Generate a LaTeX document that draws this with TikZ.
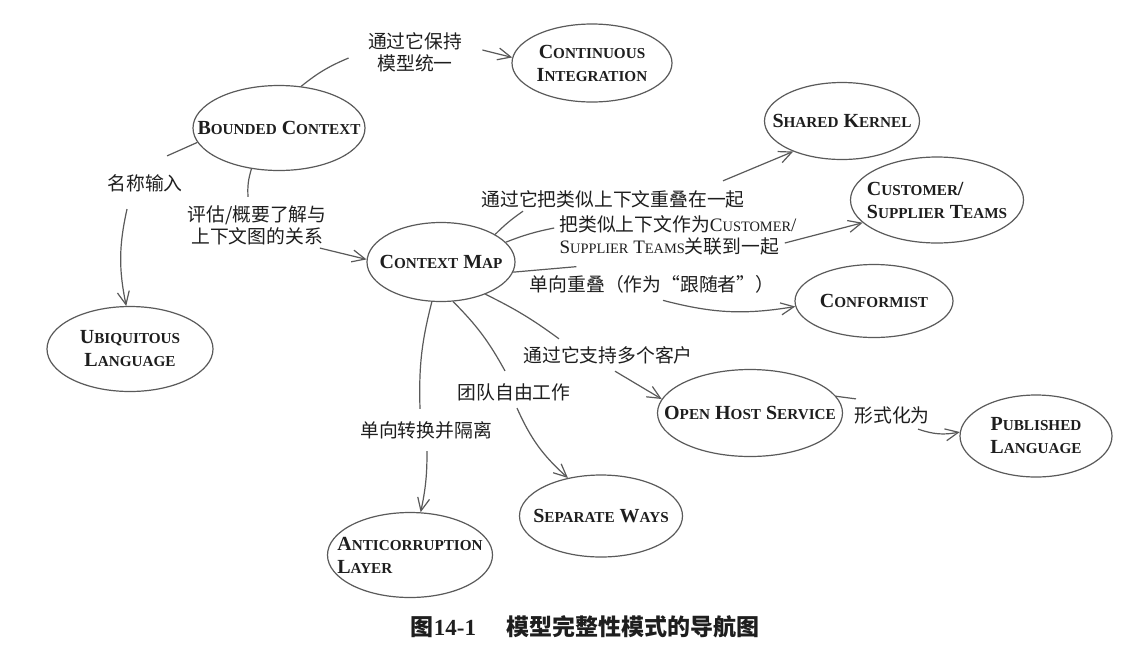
\documentclass[tikz,border=0pt]{standalone}
\usepackage{fontspec}
\setmainfont{Liberation Serif}
\newfontfamily\cjk{Noto Sans CJK SC}
\usetikzlibrary{shapes.geometric}
\usetikzlibrary{arrows.meta}
\definecolor{linegray}{RGB}{90, 90, 90}
\definecolor{inkblack}{RGB}{30, 30, 30}
\newcommand{\smc}[1]{{\fontsize{7.6pt}{9pt}\selectfont #1}}
\newcommand{\smcl}[1]{{\fontsize{7.2pt}{9pt}\selectfont #1}}
\newcommand{\lat}[1]{{\rmfamily\fontsize{9.5pt}{11pt}\selectfont #1}}
\tikzset{
  concept/.style={ellipse, draw=linegray, line width=0.6pt, inner sep=-12pt, text=inkblack, align=center,
    font=\fontsize{10pt}{11.5pt}\selectfont\bfseries},
  lbl/.style={inner sep=0pt, text=inkblack, align=center, font=\cjk\fontsize{9.4pt}{11pt}\selectfont},
  link/.style={draw=linegray, line width=0.6pt},
  arr/.style={link, -{Straight Barb[length=6.5pt,width=6pt]}},
}

\begin{document}
\begin{tikzpicture}[x=0.5pt, y=-0.5pt]
\useasboundingbox[fill=white] (0,0) rectangle (1135,654);

% concepts
\node[concept, minimum width=86pt, minimum height=42.5pt](bc) at (279,128) {B\smc{OUNDED} C\smc{ONTEXT}};
\node[concept, minimum width=80pt, minimum height=39pt](ci) at (592,63) {C\smc{ONTINUOUS}\\I\smc{NTEGRATION}};
\node[concept, minimum width=77.5pt, minimum height=38.5pt](sk) at (842,121) {S\smc{HARED} K\smc{ERNEL}};
\node[concept, minimum width=86.5pt, minimum height=43pt, align=left](cst) at (937,200) {C\smc{USTOMER}/\\S\smc{UPPLIER} T\smc{EAMS}};
\node[concept, minimum width=74pt, minimum height=39.5pt](cm) at (441,262) {C\smc{ONTEXT} M\smc{AP}};
\node[concept, minimum width=79pt, minimum height=36.5pt](cf) at (874,301) {C\smc{ONFORMIST}};
\node[concept, minimum width=83pt, minimum height=42.5pt](ul) at (130,349) {U\smc{BIQUITOUS}\\L\smc{ANGUAGE}};
\node[concept, minimum width=82.5pt, minimum height=42.5pt, align=left](acl) at (410,555) {A\smc{NTICORRUPTION}\\L\smc{AYER}};
\node[concept, minimum width=81.5pt, minimum height=41pt](sw) at (601,516) {S\smc{EPARATE} W\smc{AYS}};
\node[concept, minimum width=92.5pt, minimum height=43.5pt](ohs) at (750,413) {O\smc{PEN} H\smc{OST} S\smc{ERVICE}};
\node[concept, minimum width=76pt, minimum height=41pt](pl) at (1036,436) {P\smc{UBLISHED}\\L\smc{ANGUAGE}};

% relation labels
\node[lbl](l1) at (415,52) {通过它保持\\模型统一};
\node[lbl](l2) at (145,183) {名称输入};
\node[lbl](l3) at (257,225) {评估/概要了解与\\上下文图的关系};
\node[lbl](l4) at (613,199) {通过它把类似上下文重叠在一起};
\node[lbl, align=left](l5) at (678,235) {把类似上下文作为\lat{C\smcl{USTOMER}/}\\\lat{S\smcl{UPPLIER} T\smcl{EAMS}}关联到一起};
\node[lbl](l6) at (652,284) {单向重叠（作为“跟随者”）};
\node[lbl](l7) at (608,355) {通过它支持多个客户};
\node[lbl](l8) at (514,392) {团队自由工作};
\node[lbl](l9) at (426,430) {单向转换并隔离};
\node[lbl](l10) at (892,415) {形式化为};

% bounded context
\draw[link] (bc.62) to[bend left=8] ([shift={(-19,6)}]l1.west);
\draw[arr] ([shift={(20,-2)}]l1.east) -- (ci.176);
\draw[link] (bc.190) -- ([shift={(22,-18)}]l2.north);
\draw[arr] ([shift={(-18,17)}]l2.south) to[bend right=12] (ul.95);
\draw[link] (bc.236) to[bend right=10] ([shift={(-9,-8)}]l3.north);
\draw[arr] ([shift={(-7,3)}]l3.south east) -- (cm.178);

% context map
\draw[link] (cm.27) to[bend left=5] ([shift={(42,3)}]l4.south west);
\draw[arr] ([shift={(-22,-9)}]l4.north east) -- (sk.212);
\draw[link] (cm.17) to[bend left=5] ([shift={(-5,-7)}]l5.west);
\draw[arr] ([shift={(-12,8)}]l5.east) -- (cst.197);
\draw[link] (cm.352) -- ([shift={(47,-8)}]l6.north west);
\draw[arr] ([shift={(11,7)}]l6.south) to[bend right=12] (cf.184);
\draw[link] (cm.324) to[bend left=5] ([shift={(36,-7)}]l7.north west);
\draw[arr] ([shift={(7,7)}]l7.south) -- (ohs.171);
\draw[link] (cm.287) to[bend left=8] ([shift={(-9,-12)}]l8.north);
\draw[arr] ([shift={(3,7)}]l8.south) to[bend right=12] (sw.131);
\draw[link] (cm.257) to[bend right=8] ([shift={(-6,-12)}]l9.north);
\draw[arr] ([shift={(1,12)}]l9.south) to[bend left=6] (acl.76);

% open host service
\draw[link] (ohs.11) -- ([shift={(2,-7)}]l10.north west);
\draw[arr] ([shift={(-12,5)}]l10.south east) to[bend right=15] (pl.177);

% caption
\node[text=inkblack, font=\fontsize{11.5pt}{13pt}\selectfont\bfseries](caption) at (585,627)
  {{\cjk 图}14-1\hspace{1.3em}{\cjk 模型完整性模式的导航图}};
\end{tikzpicture}
\end{document}
